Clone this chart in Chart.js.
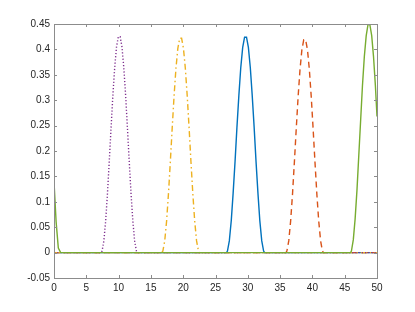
<!DOCTYPE html>
<html>
<head>
<meta charset="utf-8">
<script src="https://cdn.jsdelivr.net/npm/chart.js@4"></script>
<style>
  html, body { margin: 0; padding: 0; background: #fff; }
  #wrap { width: 415px; height: 312px; }
</style>
</head>
<body>
<div id="wrap"><canvas id="chart" width="415" height="312"></canvas></div>
<script>
// tick values
const xTicks = [0, 5, 10, 15, 20, 25, 30, 35, 40, 45, 50];
const yTicks = [-0.05, 0, 0.05, 0.1, 0.15, 0.2, 0.25, 0.3, 0.35, 0.4, 0.45];

// series
const blueX = [0, 26.7, 26.85, 27.14, 27.44, 27.73, 28.03, 28.32, 28.62, 28.91, 29.21, 29.5, 29.8, 30.09, 30.39, 30.68, 30.98, 31.27, 31.57, 31.86, 32.16, 32.45, 32.6, 50];
const blueY = [0, 0, 0.003, 0.023, 0.063, 0.117, 0.180, 0.247, 0.310, 0.364, 0.404, 0.424, 0.424, 0.404, 0.364, 0.310, 0.247, 0.180, 0.117, 0.063, 0.023, 0.003, 0, 0];

const orangeX = [0, 35.9, 36.05, 36.34, 36.63, 36.92, 37.21, 37.5, 37.79, 38.08, 38.37, 38.66, 38.95, 39.24, 39.53, 39.82, 40.11, 40.4, 40.69, 40.98, 41.27, 41.56, 41.7, 50];
const orangeY = [0, 0, 0.003, 0.023, 0.062, 0.115, 0.178, 0.244, 0.307, 0.360, 0.399, 0.419, 0.419, 0.399, 0.360, 0.307, 0.244, 0.178, 0.115, 0.062, 0.023, 0.003, 0, 0];

const yellowX = [0, 16.7, 16.85, 17.14, 17.43, 17.72, 18.01, 18.3, 18.59, 18.88, 19.17, 19.46, 19.75, 20.04, 20.33, 20.62, 20.91, 21.2, 21.49, 21.78, 22.07, 22.36, 22.5, 50];
const yellowY = [0, 0, 0.003, 0.023, 0.062, 0.116, 0.179, 0.246, 0.309, 0.363, 0.402, 0.422, 0.422, 0.402, 0.363, 0.309, 0.246, 0.179, 0.116, 0.062, 0.023, 0.003, 0, 0];

const purpleX = [0, 7.3, 7.44, 7.72, 8.0, 8.28, 8.56, 8.84, 9.12, 9.4, 9.68, 9.96, 10.24, 10.52, 10.8, 11.08, 11.36, 11.64, 11.92, 12.2, 12.48, 12.76, 12.9, 50];
const purpleY = [0, 0, 0.003, 0.023, 0.063, 0.117, 0.181, 0.247, 0.311, 0.365, 0.405, 0.425, 0.425, 0.405, 0.365, 0.311, 0.247, 0.181, 0.117, 0.063, 0.023, 0.003, 0, 0];

const greenX = [0, 0.33, 0.67, 1.03, 45.9, 46.04, 46.33, 46.61, 46.9, 47.18, 47.47, 47.75, 48.04, 48.33, 48.61, 48.89, 49.18, 49.46, 49.75, 50];
const greenY = [0.14, 0.06, 0.009, 0, 0, 0.003, 0.025, 0.066, 0.123, 0.191, 0.261, 0.329, 0.386, 0.427, 0.449, 0.449, 0.427, 0.386, 0.329, 0.268];

const axisColor = '#262626';
const boxColor = '#8c8c8c';

function pts(xs, ys) {
    return xs.map((x, i) => ({ x: x, y: ys[i] }));
}

function line(xs, ys, color, dash, order) {
    return {
        data: pts(xs, ys),
        borderColor: color,
        borderWidth: 1.4,
        borderDash: dash,
        pointRadius: 0,
        fill: false,
        tension: 0,
        order: order
    };
}

// matlab-like box with inward ticks
const boxPlugin = {
    id: 'box',
    afterDatasetsDraw(chart) {
        const { ctx, chartArea: a, scales } = chart;
        const len = 3;
        ctx.save();
        ctx.strokeStyle = boxColor;
        ctx.lineWidth = 1;
        ctx.strokeRect(Math.round(a.left) + 0.5, Math.round(a.top) + 0.5,
            Math.round(a.right - a.left), Math.round(a.bottom - a.top));
        ctx.beginPath();
        xTicks.forEach(v => {
            const px = Math.round(scales.x.getPixelForValue(v)) + 0.5;
            ctx.moveTo(px, a.bottom); ctx.lineTo(px, a.bottom - len);
            ctx.moveTo(px, a.top); ctx.lineTo(px, a.top + len);
        });
        yTicks.forEach(v => {
            const py = Math.round(scales.y.getPixelForValue(v)) + 0.5;
            ctx.moveTo(a.left, py); ctx.lineTo(a.left + len, py);
            ctx.moveTo(a.right, py); ctx.lineTo(a.right - len, py);
        });
        ctx.stroke();
        ctx.restore();
    }
};

new Chart(document.getElementById('chart'), {
    type: 'line',
    data: {
        datasets: [
            line(blueX, blueY, '#0072BD', [], 4),
            line(orangeX, orangeY, '#D95319', [6, 4], 3),
            line(yellowX, yellowY, '#EDB120', [6, 3, 1.5, 3], 2),
            line(purpleX, purpleY, '#7E2F8E', [1.2, 2], 1),
            line(greenX, greenY, '#77AC30', [], 0)
        ]
    },
    options: {
        responsive: false,
        animation: false,
        layout: { padding: { top: 24, right: 38, left: 0, bottom: 0 } },
        plugins: { legend: { display: false }, tooltip: { enabled: false } },
        scales: {
            x: {
                type: 'linear',
                min: 0,
                max: 50,
                afterBuildTicks: s => { s.ticks = xTicks.map(v => ({ value: v })); },
                afterFit: s => { s.height = 34; },
                grid: { display: false, drawTicks: false },
                border: { display: false },
                ticks: {
                    color: axisColor,
                    font: { family: 'Liberation Sans', size: 10 },
                    padding: 4,
                    maxRotation: 0,
                    callback: v => String(v)
                }
            },
            y: {
                min: -0.05,
                max: 0.45,
                afterBuildTicks: s => { s.ticks = yTicks.map(v => ({ value: v })); },
                afterFit: s => { s.width = 54; },
                grid: { display: false, drawTicks: false },
                border: { display: false },
                ticks: {
                    color: axisColor,
                    font: { family: 'Liberation Sans', size: 10 },
                    padding: 4,
                    callback: v => String(+v.toFixed(2))
                }
            }
        }
    },
    plugins: [boxPlugin]
});
</script>
</body>
</html>
